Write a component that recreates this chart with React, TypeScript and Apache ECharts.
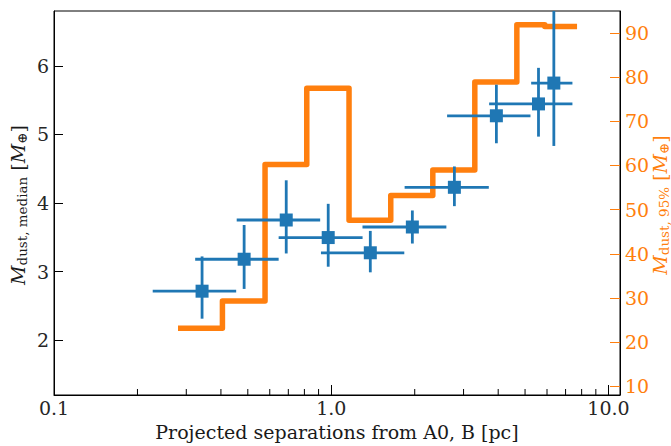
import React, { useEffect, useRef } from "react";
import * as echarts from "echarts";

// Blue points: median dust mass vs projected separation
const sepMid = [0.342, 0.485, 0.688, 0.975, 1.383, 1.961, 2.78, 3.94, 5.59, 6.35];
const sepLo = [0.227, 0.323, 0.456, 0.646, 0.918, 1.296, 1.839, 2.617, 3.71, 5.26];
const sepHi = [0.454, 0.646, 0.912, 1.297, 1.834, 2.601, 3.7, 5.23, 7.41, 7.41];
const medMass = [2.714, 3.18, 3.752, 3.496, 3.274, 3.65, 4.229, 5.272, 5.445, 5.749];
const medLo = [2.313, 2.747, 3.264, 3.071, 2.989, 3.409, 3.954, 4.871, 4.968, 4.832];
const medHi = [3.221, 3.679, 4.331, 3.988, 3.593, 3.891, 4.533, 5.725, 5.971, 6.95];

// Orange step: 95% dust mass per separation bin
const binEdges = [0.28, 0.405, 0.577, 0.816, 1.159, 1.639, 2.324, 3.294, 4.67, 5.89, 7.7];
const mass95 = [23.1, 29.3, 60.2, 77.5, 47.6, 53.2, 59.0, 78.9, 91.9, 91.5];

// Axis minor tick positions (log axis)
const minorTicks = [0.2, 0.3, 0.4, 0.5, 0.6, 0.7, 0.8, 0.9, 2, 3, 4, 5, 6, 7, 8, 9];

const BLUE = "#1f77b4";
const ORANGE = "#ff7f0e";
const SERIF = "DejaVu Serif";
const FS = 19;

export default function App() {
  const ref = useRef<HTMLDivElement>(null);
  useEffect(() => {
    if (!ref.current) return;
    const chart = echarts.init(ref.current, null, { renderer: "svg" });

    const errData = sepMid.map((x, i) => [x, medMass[i], sepLo[i], sepHi[i], medLo[i], medHi[i]]);
    const stepData = binEdges.map((e, i) => [e, mass95[Math.min(i, mass95.length - 1)]]);

    const tickLabel = { fontSize: FS, fontFamily: SERIF, color: "#262626" };

    const richTitle = (color: string) => ({
      mi: { fontFamily: SERIF, fontStyle: "italic", fontSize: FS, fill: color },
      sub: { fontFamily: SERIF, fontSize: 13.5, padding: [8, 0, 0, 0], fill: color },
      rm: { fontFamily: SERIF, fontSize: FS, fill: color },
    });

    chart.setOption({
      animation: false,
      backgroundColor: "#fff",
      grid: { left: 54, right: 51, top: 11, bottom: 47, show: true, borderColor: "#000", borderWidth: 1 },
      xAxis: {
        type: "log",
        logBase: 10,
        min: 0.1,
        max: 11,
        axisLine: { show: true, lineStyle: { color: "#000", width: 1 } },
        axisTick: { show: true, inside: true, length: 10, lineStyle: { color: "#000" } },
        axisLabel: {
          ...tickLabel,
          margin: 3,
          showMaxLabel: false,
          formatter: (v: number) => {
            const l = Math.log10(v);
            return Math.abs(l - Math.round(l)) < 1e-6 ? v.toFixed(1) : "";
          },
        },
        splitLine: { show: false },
        minorTick: { show: false },
        name: "Projected separations from A0, B [pc]",
        nameLocation: "middle",
        nameGap: 27,
        nameTextStyle: { fontSize: FS, fontFamily: SERIF, color: "#1a1a1a" },
      },
      yAxis: [
        {
          type: "value",
          min: 1.2,
          max: 6.8,
          minInterval: 1,
          maxInterval: 1,
          axisLine: { show: true, lineStyle: { color: "#000", width: 1 } },
          axisTick: { show: true, inside: true, length: 9, lineStyle: { color: "#000" } },
          axisLabel: {
            ...tickLabel,
            margin: 5,
            showMinLabel: false,
            showMaxLabel: false,
            formatter: (v: number) => (Math.abs(v - Math.round(v)) < 1e-6 ? String(Math.round(v)) : ""),
          },
          splitLine: { show: false },
        },
        {
          type: "value",
          position: "right",
          min: 8,
          max: 95,
          minInterval: 10,
          maxInterval: 10,
          axisLine: { show: true, lineStyle: { color: "#000", width: 1 } },
          axisTick: { show: true, inside: true, length: 10, lineStyle: { color: ORANGE } },
          axisLabel: {
            ...tickLabel,
            color: ORANGE,
            margin: 5,
            showMinLabel: false,
            showMaxLabel: false,
            formatter: (v: number) => (Math.abs(v / 10 - Math.round(v / 10)) < 1e-6 ? String(Math.round(v)) : ""),
          },
          splitLine: { show: false },
        },
      ],
      graphic: [
        {
          type: "text",
          x: 18,
          y: 205,
          rotation: Math.PI / 2,
          style: {
            text: "{mi|M}{sub|dust, median}{rm| [}{mi|M}{sub|⊕}{rm|]}",
            rich: richTitle("#1a1a1a"),
            fill: "#1a1a1a",
            align: "center",
            verticalAlign: "middle",
          },
        },
        {
          type: "text",
          x: 660,
          y: 205,
          rotation: Math.PI / 2,
          style: {
            text: "{mi|M}{sub|dust, 95%}{rm| [}{mi|M}{sub|⊕}{rm|]}",
            rich: richTitle(ORANGE),
            fill: ORANGE,
            align: "center",
            verticalAlign: "middle",
          },
        },
      ],
      series: [
        {
          type: "line",
          yAxisIndex: 1,
          data: stepData,
          step: "end",
          showSymbol: false,
          symbol: "none",
          lineStyle: { color: ORANGE, width: 5.5, cap: "butt", join: "round" },
          z: 2,
        },
        {
          type: "custom",
          yAxisIndex: 0,
          clip: true,
          data: errData,
          encode: { x: 0, y: 1 },
          renderItem: (params: any, api: any) => {
            const x = api.value(0);
            const y = api.value(1);
            const l = api.coord([api.value(2), y]);
            const r = api.coord([api.value(3), y]);
            const b = api.coord([x, api.value(4)]);
            const t = api.coord([x, api.value(5)]);
            const st = { stroke: BLUE, lineWidth: 2.8 };
            return {
              type: "group",
              children: [
                { type: "line", shape: { x1: l[0], y1: l[1], x2: r[0], y2: r[1] }, style: st },
                { type: "line", shape: { x1: b[0], y1: b[1], x2: t[0], y2: t[1] }, style: st },
              ],
            };
          },
          z: 3,
        },
        {
          type: "scatter",
          yAxisIndex: 0,
          data: sepMid.map((x, i) => [x, medMass[i]]),
          symbol: "rect",
          symbolSize: 13,
          itemStyle: { color: BLUE, opacity: 1 },
          z: 4,
        },
        {
          type: "custom",
          yAxisIndex: 0,
          data: minorTicks.map((v) => [v, 1.2]),
          encode: { x: 0, y: 1 },
          renderItem: (params: any, api: any) => {
            const p = api.coord([api.value(0), api.value(1)]);
            return {
              type: "line",
              shape: { x1: p[0], y1: p[1], x2: p[0], y2: p[1] - 6 },
              style: { stroke: "#000", lineWidth: 1 },
            };
          },
          z: 5,
        },
      ],
    });
    return () => chart.dispose();
  }, []);
  return <div ref={ref} style={{ position: "absolute", left: 0, top: 0, width: 671, height: 446 }} />;
}
